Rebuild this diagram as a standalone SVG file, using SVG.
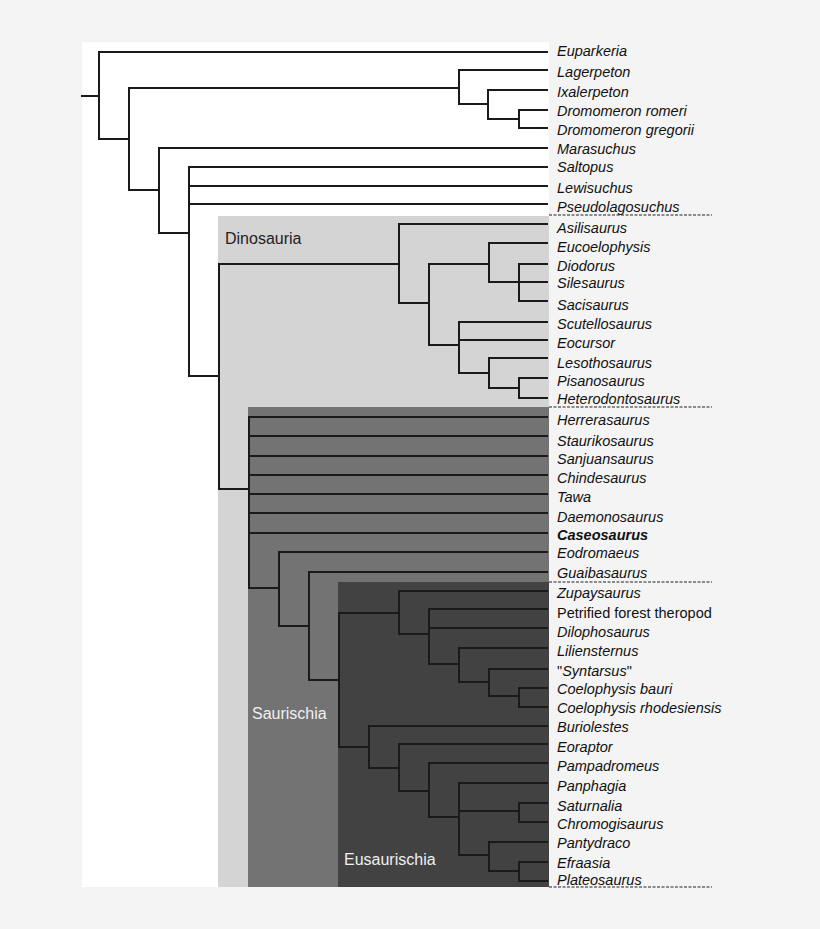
<svg xmlns="http://www.w3.org/2000/svg" width="820" height="929" viewBox="0 0 820 929">
<style>
.t{font-family:"Liberation Sans",Arial,sans-serif;font-size:14.5px;font-style:italic;fill:#111}
.r{font-style:normal}
.b{font-weight:bold}
.cl{font-family:"Liberation Sans",Arial,sans-serif;font-size:16px}
.e{fill:none;stroke:#1a1a1a;stroke-width:2;stroke-linecap:square}
.d{fill:none;stroke:#222;stroke-width:1.2;stroke-dasharray:3 1.5}
</style>
<rect width="820" height="929" fill="#f4f4f4"/>
<rect x="82" y="42" width="467" height="845" fill="#ffffff"/>
<g id="clade-dinosauria">
<rect x="218" y="216" width="331" height="671" fill="#d4d4d4"/>
<text class="cl" x="225" y="244" font-size="15.5" fill="#222">Dinosauria</text>
</g>
<g id="clade-saurischia">
<rect x="248" y="407" width="301" height="480" fill="#737373"/>
</g>
<g id="clade-eusaurischia">
<rect x="338" y="582" width="211" height="305" fill="#424242"/>
</g>
<g id="connectors" class="e">
<path d="M82,96H99M99,52V139M99,52H547M99,139H129"/>
<path d="M129,88V190M129,88H459M129,190H159"/>
<path d="M459,70V104M459,70H547M459,104H488"/>
<path d="M488,90V119M488,90H547M488,119H519"/>
<path d="M519,110V128M519,110H547M519,128H547"/>
<path d="M159,148V233M159,148H547M159,233H189"/>
<path d="M189,167V376M189,167H547M189,186H547M189,204H547M189,376H219"/>
<path d="M219,264V489M219,264H399M219,489H249"/>
<path d="M399,224V303M399,224H547M399,303H429"/>
<path d="M429,264V345M429,264H489M429,345H459"/>
<path d="M489,243V282M489,243H547M489,282H547"/>
<path d="M519,264V301M519,264H547M519,301H547"/>
<path d="M459,322V373M459,322H547M459,340H547M459,373H489"/>
<path d="M489,358V388M489,358H547M489,388H519"/>
<path d="M519,378V398M519,378H547M519,398H547"/>
<path d="M249,417V588M249,417H547M249,436H547M249,456H547M249,475H547M249,494H547M249,513H547M249,533H547M249,588H279"/>
<path d="M279,552V626M279,552H547M279,626H309"/>
<path d="M309,572V680M309,572H547M309,680H339"/>
<path d="M339,613V747M339,613H399M339,747H369"/>
<path d="M399,591V634M399,591H547M399,634H429"/>
<path d="M429,609V664M429,609H547M429,628H547M429,664H459"/>
<path d="M459,648V682M459,648H547M459,682H489"/>
<path d="M489,669V696M489,669H547M489,696H519"/>
<path d="M519,688V707M519,688H547M519,707H547"/>
<path d="M369,726V768M369,726H547M369,768H399"/>
<path d="M399,744V791M399,744H547M399,791H429"/>
<path d="M429,763V817M429,763H547M429,817H459"/>
<path d="M459,783V855M459,783H547M459,811H519M459,855H489"/>
<path d="M519,803V822M519,803H547M519,822H547"/>
<path d="M489,842V871M489,842H547M489,871H519"/>
<path d="M519,862V881M519,862H547M519,881H547"/>
</g>
<g id="separators" class="d">
<path d="M549,215H712M549,407H712M549,582H712M549,887H712"/>
</g>
<g id="clade-labels">
<text class="cl" x="252" y="719" fill="#f0f0f0">Saurischia</text>
<text class="cl" x="344" y="865" fill="#f0f0f0">Eusaurischia</text>
</g>
<g id="taxa" class="t">
<text id="euparkeria" x="557" y="56">Euparkeria</text>
<text id="lagerpeton" x="557" y="77">Lagerpeton</text>
<text id="ixalerpeton" x="557" y="97">Ixalerpeton</text>
<text id="dromomeron-romeri" x="557" y="116">Dromomeron romeri</text>
<text id="dromomeron-gregorii" x="557" y="135">Dromomeron gregorii</text>
<text id="marasuchus" x="557" y="154">Marasuchus</text>
<text id="saltopus" x="557" y="172">Saltopus</text>
<text id="lewisuchus" x="557" y="193">Lewisuchus</text>
<text id="pseudolagosuchus" x="557" y="212">Pseudolagosuchus</text>
<text id="asilisaurus" x="557" y="233">Asilisaurus</text>
<text id="eucoelophysis" x="557" y="252">Eucoelophysis</text>
<text id="diodorus" x="557" y="271">Diodorus</text>
<text id="silesaurus" x="557" y="288">Silesaurus</text>
<text id="sacisaurus" x="557" y="310">Sacisaurus</text>
<text id="scutellosaurus" x="557" y="329">Scutellosaurus</text>
<text id="eocursor" x="557" y="348">Eocursor</text>
<text id="lesothosaurus" x="557" y="368">Lesothosaurus</text>
<text id="pisanosaurus" x="557" y="386">Pisanosaurus</text>
<text id="heterodontosaurus" x="557" y="404">Heterodontosaurus</text>
<text id="herrerasaurus" x="557" y="425">Herrerasaurus</text>
<text id="staurikosaurus" x="557" y="446">Staurikosaurus</text>
<text id="sanjuansaurus" x="557" y="464">Sanjuansaurus</text>
<text id="chindesaurus" x="557" y="483">Chindesaurus</text>
<text id="tawa" x="557" y="502">Tawa</text>
<text id="daemonosaurus" x="557" y="522">Daemonosaurus</text>
<text id="caseosaurus" class="b" x="557" y="540">Caseosaurus</text>
<text id="eodromaeus" x="557" y="558">Eodromaeus</text>
<text id="guaibasaurus" x="557" y="578">Guaibasaurus</text>
<text id="zupaysaurus" x="557" y="598">Zupaysaurus</text>
<text id="petrified-forest-theropod" class="r" x="557" y="618">Petrified forest theropod</text>
<text id="dilophosaurus" x="557" y="637">Dilophosaurus</text>
<text id="liliensternus" x="557" y="656">Liliensternus</text>
<text id="syntarsus" x="557" y="676"><tspan class="r">"</tspan>Syntarsus<tspan class="r">"</tspan></text>
<text id="coelophysis-bauri" x="557" y="694">Coelophysis bauri</text>
<text id="coelophysis-rhodesiensis" x="557" y="713">Coelophysis rhodesiensis</text>
<text id="buriolestes" x="557" y="732">Buriolestes</text>
<text id="eoraptor" x="557" y="752">Eoraptor</text>
<text id="pampadromeus" x="557" y="771">Pampadromeus</text>
<text id="panphagia" x="557" y="791">Panphagia</text>
<text id="saturnalia" x="557" y="811">Saturnalia</text>
<text id="chromogisaurus" x="557" y="829">Chromogisaurus</text>
<text id="pantydraco" x="557" y="848">Pantydraco</text>
<text id="efraasia" x="557" y="868">Efraasia</text>
<text id="plateosaurus" x="557" y="885">Plateosaurus</text>
</g>
</svg>
